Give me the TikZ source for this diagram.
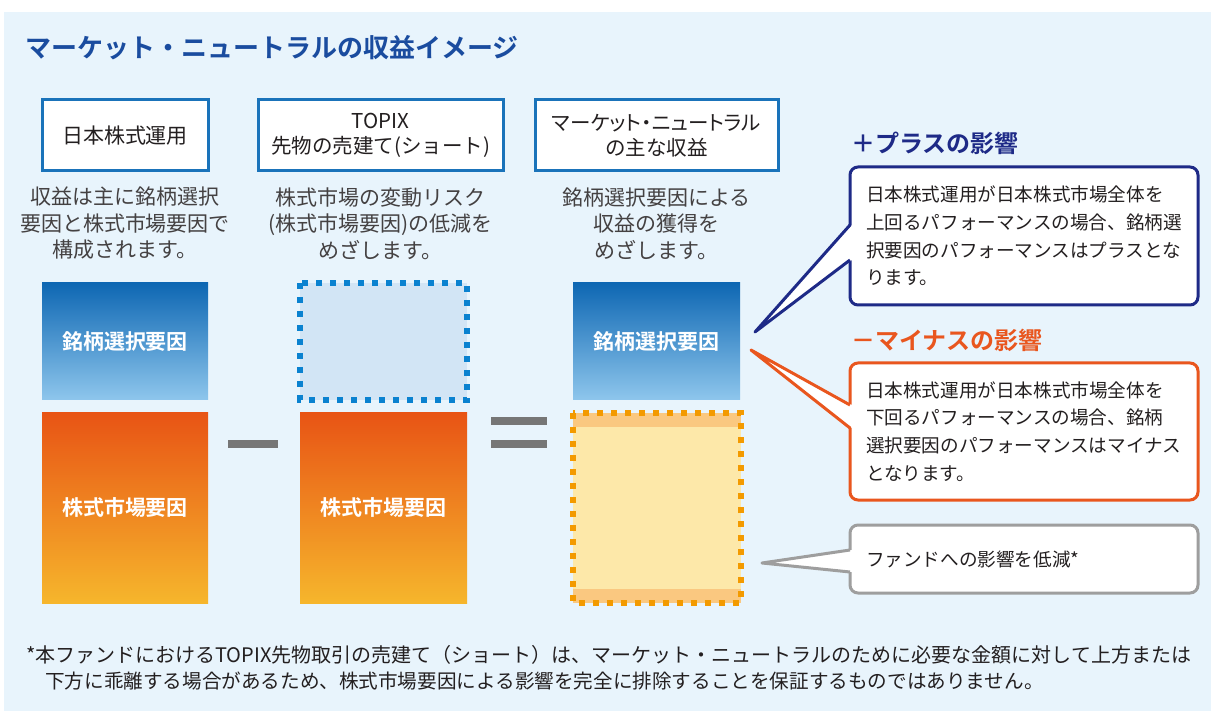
\documentclass[tikz,border=0pt]{standalone}
\usepackage{fontspec}
\setmainfont{Noto Sans CJK JP}[BoldFont={Noto Sans CJK JP Bold}]
\newfontfamily\propjp{Noto Sans CJK JP}[RawFeature=+palt]
\usepackage{xcolor}
\definecolor{panelblue}{HTML}{E8F4FC}
\definecolor{boxblue}{HTML}{1A73BA}
\definecolor{titleblue}{HTML}{1A4C9F}
\definecolor{plusnavy}{HTML}{1E2A87}
\definecolor{minusorange}{HTML}{E9561E}
\definecolor{neutralgray}{HTML}{9E9E9E}
\definecolor{barbluetop}{HTML}{0E67B3}
\definecolor{barbluebot}{HTML}{8EC6EC}
\definecolor{barorangetop}{HTML}{E85415}
\definecolor{barorangebot}{HTML}{F6B62C}
\definecolor{dashblue}{HTML}{0A82D0}
\definecolor{dashbluefill}{HTML}{D2E5F5}
\definecolor{dashorange}{HTML}{F39A00}
\definecolor{neutralfill}{HTML}{FDE8A9}
\definecolor{neutralband}{HTML}{FAC880}
\definecolor{opgray}{HTML}{767676}
\definecolor{textdark}{HTML}{231F20}
\usetikzlibrary{positioning, calc}

\begin{document}
\begin{tikzpicture}[
        x=1pt, y=-1pt,
        node distance=13pt,
        headbox/.style={rectangle, draw=boxblue, line width=3pt, fill=white,
                    minimum height=71pt, inner sep=0pt, align=center, text=textdark,
                    font=\fontsize{21}{25}\selectfont},
        desc/.style={align=center, text=textdark!85, inner sep=0pt,
                    font=\fontsize{21}{26.5}\selectfont},
        bluebar/.style={rectangle, top color=barbluetop, bottom color=barbluebot,
                    minimum width=166pt, minimum height=117pt, inner sep=0pt, outer sep=0pt,
                    text=white, font=\bfseries\fontsize{21}{24}\selectfont},
        orangebar/.style={rectangle, top color=barorangetop, bottom color=barorangebot,
                    minimum width=166pt, minimum height=190pt, inner sep=0pt, outer sep=0pt,
                    text=white, font=\bfseries\fontsize{21}{24}\selectfont},
        dotline/.style={line width=6pt, dash pattern=on 6pt off 8pt},
        opbar/.style={rectangle, fill=opgray, inner sep=0pt, minimum height=8pt},
        callout/.style={rectangle, rounded corners=8pt, fill=white, line width=3pt,
                    text width=316pt, inner xsep=16pt, inner ysep=0pt, outer sep=0pt,
                    align=left, text=textdark, font=\fontsize{18.6}{27.7}\selectfont},
        heading/.style={anchor=west, inner sep=0pt, font=\bfseries\fontsize{24}{26}\selectfont},
        wedge/.style={line width=3pt, line join=round}
    ]
        % Panel
        \useasboundingbox (0,0) rectangle (1211,711);
        \fill[white] (0,0) rectangle (1211,711);
        \fill[panelblue] (4,12) rectangle (1211,711);

        % Title
        \node[anchor=west, inner sep=0pt, text=titleblue, font=\bfseries\fontsize{26}{30}\selectfont]
            (title) at (25,48) {マーケット・ニュートラルの収益イメージ};

        % Column headers
        \node[headbox, minimum width=166pt] (equity) at (125,135.5) {日本株式運用};
        \node[headbox, minimum width=245pt, font=\fontsize{20.5}{25}\selectfont] (futures) at (380.5,135.5)
            {TOPIX\\先物の売建て(ショート)};
        \node[headbox, minimum width=243pt, font=\fontsize{20.5}{25}\selectfont] (neutral) at (656.5,135.5)
            {{\propjp マーケット・ニュートラル}\\の主な収益};

        % Column texts
        \node[desc] (equitytxt) at (125,223.5) {収益は主に銘柄選択\\要因と株式市場要因で\\構成されます。};
        \node[desc] (futurestxt) at (380.5,223.5) {株式市場の変動リスク\\(株式市場要因)の低減を\\めざします。};
        \node[desc] (neutraltxt) at (656.5,223.5) {銘柄選択要因による\\収益の獲得を\\めざします。};

        % Bars
        \node[bluebar] (stockA) at (125,341.5) {銘柄選択要因};
        \node[orangebar, below=of stockA] (marketA) {株式市場要因};

        \node[rectangle, fill=dashbluefill, minimum width=167pt, minimum height=117pt,
            inner sep=0pt, outer sep=0pt] (hedge) at (383.5,341.5) {};
        \draw[dotline, dashblue] (hedge.north west) rectangle (hedge.south east);
        \node[orangebar, minimum width=167pt, below=of hedge] (marketB) {株式市場要因};

        \node[bluebar, minimum width=167pt] (stockC) at (656.5,341.5) {銘柄選択要因};
        \node[rectangle, fill=neutralfill, minimum width=168pt, minimum height=190pt,
            inner sep=0pt, outer sep=0pt, below=of stockC] (residual) {};
        \fill[neutralband] (residual.north west) rectangle ($(residual.north east)+(0,14)$);
        \fill[neutralband] ($(residual.south west)+(0,-14)$) rectangle (residual.south east);
        \draw[dotline, dashorange] (residual.north west) rectangle (residual.south east);

        % Operators
        \node[opbar, minimum width=50pt] (minus) at (253,444) {};
        \node[opbar, minimum width=56pt] (eqtop) at (519,421) {};
        \node[opbar, minimum width=56pt] (eqbot) at (519,444) {};

        % Headings
        \node[heading, text=plusnavy] (plushead) at (851,143) {＋プラスの影響};
        \node[heading, text=minusorange] (minushead) at (851,340) {－マイナスの影響};

        % Callouts
        \node[callout, draw=plusnavy, minimum height=138pt] (plusbox) at (1024,236)
            {日本株式運用が日本株式市場全体を\\上回るパフォーマンスの場合、銘柄選\\択要因のパフォーマンスはプラスとな\\ります。};
        \node[callout, draw=minusorange, minimum height=137pt] (minusbox) at (1024,431.5)
            {日本株式運用が日本株式市場全体を\\下回るパフォーマンスの場合、銘柄\\選択要因のパフォーマンスはマイナス\\となります。};
        \node[callout, draw=neutralgray, minimum height=68pt] (fundbox) at (1024,559)
            {ファンドへの影響を低減*};

        \coordinate (plustip) at (755,332);
        \coordinate (minustip) at (751,350);
        \coordinate (fundtip) at (762,563);

        \fill[white] ($(plusbox.north west)+(2,58)$) -- (plustip) -- ($(plusbox.north west)+(2,93)$) -- cycle;
        \draw[wedge, plusnavy] ($(plusbox.north west)+(0,58)$) -- (plustip) -- ($(plusbox.north west)+(0,93)$);
        \fill[white] ($(minusbox.north west)+(2,42)$) -- (minustip) -- ($(minusbox.north west)+(2,65)$) -- cycle;
        \draw[wedge, minusorange] ($(minusbox.north west)+(0,42)$) -- (minustip) -- ($(minusbox.north west)+(0,65)$);
        \fill[white] ($(fundbox.north west)+(2,25)$) -- (fundtip) -- ($(fundbox.north west)+(2,47)$) -- cycle;
        \draw[wedge, neutralgray] ($(fundbox.north west)+(0,25)$) -- (fundtip) -- ($(fundbox.north west)+(0,47)$);

        % Footnote
        \node[anchor=west, inner sep=0pt, text=textdark, font=\fontsize{20}{24}\selectfont]
            (note1) at (26,655) {*本ファンドにおけるTOPIX先物取引の売建て（ショート）は、マーケット・ニュートラルのために必要な金額に対して上方または};
        \node[anchor=west, inner sep=0pt, text=textdark, font=\fontsize{19.6}{24}\selectfont]
            (note2) at (45,681) {下方に乖離する場合があるため、株式市場要因による影響を完全に排除することを保証するものではありません。};
    \end{tikzpicture}
\end{document}
